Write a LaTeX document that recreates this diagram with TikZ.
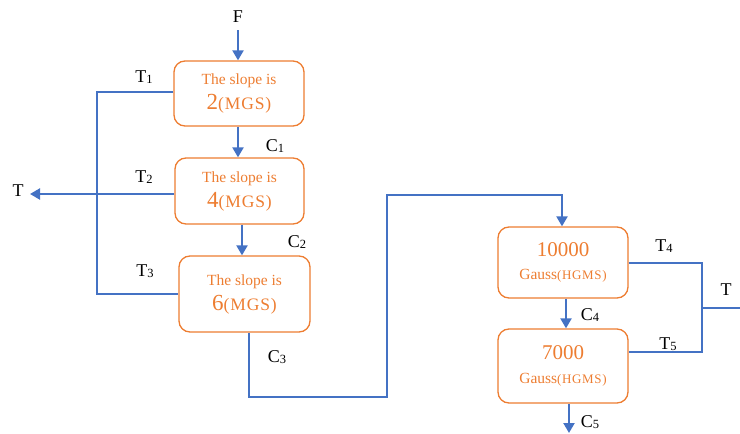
\documentclass[tikz,border=0pt]{standalone}
\usepackage{fontspec}
\setmainfont{Liberation Serif}
\usetikzlibrary{arrows.meta}
\definecolor{orng}{HTML}{ED7D31}
\definecolor{blu}{HTML}{4472C4}
\begin{document}
\begin{tikzpicture}[x=1pt,y=-1pt,
  proc/.style={draw=orng,line width=1.3pt,rounded corners=11pt,text=orng,align=center,inner sep=0pt},
  slopebox/.style={proc,font=\fontsize{16}{25}\selectfont},
  gaussbox/.style={proc,font=\fontsize{15}{23.5}\selectfont},
  arr/.style={draw=blu,line width=2.2pt,-{Triangle[length=10pt,width=11pt]}},
  thin/.style={draw=blu,line width=1.1pt},
  lbl/.style={font=\fontsize{18}{20}\selectfont,inner sep=0pt}]
\useasboundingbox (0,0) rectangle (740,434);
\newcommand{\slp}[1]{{\fontsize{15.5}{25}\selectfont The slope is}\\{\fontsize{23}{25}\selectfont #1}{\fontsize{17.5}{25}\selectfont\addfontfeature{LetterSpace=5}(MGS)}}
\newcommand{\gss}[1]{{\fontsize{21}{23.5}\selectfont #1}\\{\fontsize{15.5}{23.5}\selectfont Gauss}{\fontsize{13}{23.5}\selectfont\addfontfeature{LetterSpace=5}(HGMS)}}
\newcommand{\sbs}[1]{\raisebox{-1.2pt}{\fontsize{12.5}{13}\selectfont #1}}
\node[slopebox,minimum width=130pt,minimum height=65pt] (b1) at (239,93.5) {\slp{2}};
\node[slopebox,minimum width=129pt,minimum height=66pt] (b2) at (239.5,191) {\slp{4}};
\node[slopebox,minimum width=131pt,minimum height=76pt] (b3) at (244.5,294) {\slp{6}};
\node[gaussbox,minimum width=130pt,minimum height=71pt] (b4) at (563,262.5) {\gss{10000}};
\node[gaussbox,minimum width=130pt,minimum height=74pt] (b5) at (563,366) {\gss{7000}};
% labels
\node[lbl] (F) at (238,17) {F};
\node[lbl] (T) at (18,191) {T};
\node[lbl] (Tr) at (726,290) {T};
\node[lbl] (t1) at (144,77) {T\sbs{1}};
\node[lbl] (t2) at (144,177) {T\sbs{2}};
\node[lbl] (t3) at (145,271) {T\sbs{3}};
\node[lbl] (t4) at (664,246) {T\sbs{4}};
\node[lbl] (t5) at (668,344) {T\sbs{5}};
\node[lbl] (c1) at (275,146) {C\sbs{1}};
\node[lbl] (c2) at (297,242) {C\sbs{2}};
\node[lbl] (c3) at (277,357) {C\sbs{3}};
\node[lbl] (c4) at (590,315) {C\sbs{4}};
\node[lbl] (c5) at (590,422) {C\sbs{5}};
\coordinate (fs) at (238,30);
\coordinate (jl) at (97,194);
\coordinate (jr) at (702,308);
\coordinate (rend) at (740,308);
\coordinate (c5end) at (569,433);
% arrows
\draw[arr] (fs) -- (238,0 |- b1.north);
\draw[arr] (238,0 |- b1.south) -- (238,0 |- b2.north);
\draw[arr] (242,0 |- b2.south) -- (242,0 |- b3.north);
\draw[arr] (566,0 |- b4.south) -- (566,0 |- b5.north);
\draw[arr] (569,0 |- b5.south) -- (c5end);
\draw[arr] (b2.west |- jl) -- (jl) -- (30,194);
% thin lines
\draw[thin] (b1.west |- 0,92) -- (97,92) -- (97,294) -- (b3.west |- 0,294);
\draw[thin] (b4.east |- 0,263) -- (702,263) -- (702,352) -- (b5.east |- 0,352);
\draw[thin] (jr) -- (rend);
\draw[thin] (249,0 |- b3.south) -- (249,397) -- (387,397) -- (387,195) -- (562,195);
\draw[arr] (562,194.45) -- (562,0 |- b4.north);
\end{tikzpicture}
\end{document}
